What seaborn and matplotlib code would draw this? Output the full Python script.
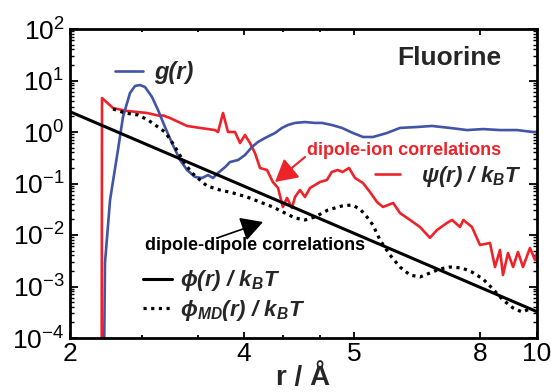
import numpy as np
import pandas as pd
import matplotlib
matplotlib.use("Agg")
import matplotlib.pyplot as plt
import seaborn as sns
from matplotlib.ticker import FixedLocator, FixedFormatter, LogLocator, NullFormatter

# ---------------- data ----------------
r_psi = [2.268, 2.272, 2.374, 2.510, 2.718, 2.863, 2.897, 2.979, 3.188, 3.357, 3.564, 3.607,
         3.679, 3.753, 3.859, 3.937, 4.008, 4.049, 4.090, 4.132, 4.191, 4.241, 4.286, 4.328,
         4.365, 4.409, 4.436, 4.481, 4.527, 4.573, 4.620, 4.667, 4.733, 4.779, 4.839, 4.884,
         4.950, 5.019, 5.171, 5.307, 5.448, 5.571, 5.788, 5.936, 6.162, 6.396, 6.638, 6.814,
         7.073, 7.208, 7.425, 7.518, 7.764, 8.0, 8.319, 8.484, 8.652, 8.753, 8.927, 9.107,
         9.283, 9.466, 9.729, 9.922, 10.0]
psi = [1e-6, 4.57, 2.92, 2.56, 2.34, 2.05, 2.10, 1.87, 1.31, 1.20, 1.09, 1.0,
       2.34, 1.0, 1.0, 0.611, 0.874, 0.611, 0.391, 0.200, 0.183, 0.107, 0.0818, 0.0350,
       0.0523, 0.0334, 0.0547, 0.0748, 0.0547, 0.0818, 0.0935, 0.107, 0.117, 0.167, 0.183, 0.167,
       0.200, 0.128, 0.102, 0.0684, 0.0437, 0.0350, 0.0418, 0.0267, 0.0196, 0.0143, 0.0088, 0.0125,
       0.0171, 0.0196, 0.0143, 0.0196, 0.0143, 0.0064, 0.0070, 0.00239, 0.00512, 0.00167, 0.00447, 0.00239,
       0.00468, 0.00239, 0.0056, 0.00327, 0.00447]

r_g = [2.284, 2.299, 2.346, 2.383, 2.421, 2.470, 2.540, 2.591, 2.643, 2.696, 2.773, 2.840,
       2.920, 3.002, 3.100, 3.188, 3.291, 3.385, 3.466, 3.535, 3.607, 3.711, 3.783, 3.907,
       4.008, 4.065, 4.115, 4.174, 4.260, 4.320, 4.373, 4.436, 4.527, 4.620, 4.686, 4.779,
       4.880, 4.990, 5.171, 5.367, 5.655, 5.936, 6.325, 6.690, 7.153, 7.621, 8.094, 8.652,
       9.247, 9.845, 10.0]
g = [1e-6, 0.00286, 0.0478, 0.146, 0.447, 1.96, 5.72, 7.82, 8.17, 7.48, 4.78, 2.67,
     1.25, 0.611, 0.286, 0.183, 0.134, 0.128, 0.146, 0.128, 0.160, 0.209, 0.261, 0.286,
     0.357, 0.511, 0.640, 0.764, 0.956, 1.20, 1.37, 1.50, 1.56, 1.50, 1.50, 1.37,
     1.20, 0.956, 0.800, 0.800, 0.956, 1.20, 1.25, 1.31, 1.20, 1.09, 1.14, 1.09,
     1.09, 1.0, 1.0]

r_phi = [2.0, 4.0, 5.0, 8.0, 10.0]
phi = [2.48, 0.0887, 0.0108, 0.000965, 0.000324]

r_md = [2.374, 2.490, 2.622, 2.729, 2.840, 2.920, 3.002, 3.075, 3.163, 3.252, 3.357, 3.452,
        3.635, 3.829, 4.024, 4.132, 4.241, 4.347, 4.436, 4.527, 4.620, 4.743, 4.880, 4.980,
        5.113, 5.248, 5.367, 5.509, 5.719, 5.936, 6.162, 6.396, 6.638, 6.891, 7.153, 7.480,
        7.764, 8.094, 8.414, 8.753, 9.107, 9.430, 9.729]
phi_md = [2.80, 2.34, 2.14, 1.71, 1.25, 1.0, 0.640, 0.409, 0.239, 0.160, 0.117, 0.0894,
          0.0748, 0.0654, 0.0547, 0.0437, 0.0350, 0.0267, 0.0214, 0.0196, 0.0224, 0.0306, 0.0366, 0.0383,
          0.0320, 0.0224, 0.0156, 0.0080, 0.00409, 0.00239, 0.00167, 0.00153, 0.00183, 0.00219, 0.00239, 0.00229,
          0.00191, 0.00140, 0.000894, 0.000547, 0.000383, 0.000320, 0.000366]

x_major = [2, 4, 5, 8, 10]
x_major_labels = ["2", "4", "5", "8", "10"]
x_minor = [8 / 3, 10 / 3, 13 / 3, 14 / 3]

# ---------------- style ----------------
sns.set_theme(style="ticks")
plt.rcParams["font.family"] = ["Liberation Sans", "DejaVu Sans"]
plt.rcParams["mathtext.fontset"] = "custom"
plt.rcParams["mathtext.rm"] = "Liberation Sans"
plt.rcParams["mathtext.it"] = "Liberation Sans:italic"
plt.rcParams["mathtext.bf"] = "Liberation Sans:bold"
plt.rcParams["mathtext.bfit"] = "Liberation Sans:italic:bold"
plt.rcParams["mathtext.sf"] = "Liberation Sans"

RED = "#EE2229"
BLUE = "#4254A6"

fig = plt.figure(figsize=(5.51, 3.92), dpi=100)
ax = fig.add_axes([70 / 551, 1 - 338 / 392, 467 / 551, 309 / 392])

sns.lineplot(x=r_psi, y=psi, ax=ax, color=RED, lw=1.9, estimator=None, sort=False)
sns.lineplot(x=r_g, y=g, ax=ax, color=BLUE, lw=1.9, estimator=None, sort=False)
sns.lineplot(x=r_phi, y=phi, ax=ax, color="black", lw=2.2, estimator=None, sort=False)
sns.lineplot(x=r_md, y=phi_md, ax=ax, color="black", lw=2.3, estimator=None, sort=False)
line_psi, line_g, line_phi, line_md = ax.lines[:4]
line_md.set_linestyle((0, (1, 1.4)))

# piecewise-logarithmic x axis as in the reference
LX = np.log(np.array([2.0, 4.0, 5.0, 8.0, 10.0]))
LF = np.array([0.0, 0.3726, 0.6081, 0.8779, 1.0])
S0 = (LF[1] - LF[0]) / (LX[1] - LX[0])
S1 = (LF[-1] - LF[-2]) / (LX[-1] - LX[-2])


def fwd(r):
    x = np.log(np.clip(np.asarray(r, dtype=float), 1e-12, None))
    y = np.interp(x, LX, LF)
    y = np.where(x < LX[0], LF[0] + (x - LX[0]) * S0, y)
    y = np.where(x > LX[-1], LF[-1] + (x - LX[-1]) * S1, y)
    return y


def inv(f):
    f = np.asarray(f, dtype=float)
    x = np.interp(f, LF, LX)
    x = np.where(f < LF[0], LX[0] + (f - LF[0]) / S0, x)
    x = np.where(f > LF[-1], LX[-1] + (f - LF[-1]) / S1, x)
    return np.exp(x)


ax.set_xscale("function", functions=(fwd, inv))
ax.set_yscale("log")
ax.set_xlim(2, 10)
ax.set_ylim(1e-4, 1e2)

ax.xaxis.set_major_locator(FixedLocator(x_major))
ax.xaxis.set_major_formatter(FixedFormatter(x_major_labels))
ax.xaxis.set_minor_locator(FixedLocator(x_minor))
ax.xaxis.set_minor_formatter(NullFormatter())
ax.yaxis.set_major_locator(LogLocator(base=10, numticks=10))
ax.yaxis.set_minor_locator(LogLocator(base=10, subs=np.arange(2, 10), numticks=20))
ax.yaxis.set_minor_formatter(NullFormatter())

for s in ax.spines.values():
    s.set_linewidth(2.0)
    s.set_color("black")
ax.tick_params(which="both", direction="in", top=True, right=True, colors="black")
ax.tick_params(axis="x", which="major", length=4, width=1.3, labelsize=19, pad=3)
ax.tick_params(axis="x", which="minor", length=2.5, width=1.3)
ax.tick_params(axis="y", which="major", length=6, width=1.3, labelsize=19, pad=4)
ax.tick_params(axis="y", which="minor", length=3, width=1.0)

ax.set_xlabel("r / Å", fontsize=20, fontweight="bold", labelpad=-1)

# texts
ax.text(0.700, 0.8835, "Fluorine", transform=ax.transAxes, fontsize=19,
        fontweight="bold", ha="left", va="baseline")
ax.text(0.5075, 0.5922, "dipole-ion correlations", transform=ax.transAxes, fontsize=13,
        fontweight="bold", color=RED, ha="left", va="baseline")
ax.text(0.1606, 0.2848, "dipole-dipole correlations", transform=ax.transAxes, fontsize=13,
        fontweight="bold", color="black", ha="left", va="baseline")

ax.annotate("", xy=(0.439, 0.5049), xytext=(0.5032, 0.5858), xycoords="axes fraction",
            arrowprops=dict(arrowstyle="-|>,head_length=0.9,head_width=0.5", color=RED,
                            lw=1.5, mutation_scale=15, shrinkA=0, shrinkB=0))
ax.annotate("", xy=(0.4133, 0.3754), xytext=(0.3148, 0.3236), xycoords="axes fraction",
            arrowprops=dict(arrowstyle="-|>,head_length=0.9,head_width=0.5", color="black",
                            lw=1.2, mutation_scale=15, shrinkA=0, shrinkB=0))

fam = ["Liberation Sans", "DejaVu Sans"]
prop_g = dict(family=fam, weight="bold", style="italic", size=17)
prop = dict(family=fam, weight="bold", style="italic", size=16)
leg1 = ax.legend(handles=[line_g], labels=["g(r)"], loc="center left",
                 bbox_to_anchor=(0.0964, 0.8586), frameon=False, borderpad=0,
                 borderaxespad=0, handlelength=1.2, handletextpad=0.45, prop=prop_g)
ax.add_artist(leg1)
leg2 = ax.legend(handles=[line_psi], labels=[r"ψ(r) / k$_{\mathbfit{B}}$T"], loc="center left",
                 bbox_to_anchor=(0.653, 0.524), frameon=False, borderpad=0,
                 borderaxespad=0, handlelength=1.12, handletextpad=0.95, prop=prop)
ax.add_artist(leg2)
leg3 = ax.legend(handles=[line_phi, line_md],
                 labels=[r"ϕ(r) / k$_{\mathbfit{B}}$T", r"ϕ$_{\mathbfit{MD}}$(r) / k$_{\mathbfit{B}}$T"],
                 loc="center left", bbox_to_anchor=(0.156, 0.1375), frameon=False, borderpad=0,
                 borderaxespad=0, handlelength=1.3, handletextpad=0.38, labelspacing=0.2,
                 prop=prop)

fig.savefig("out.png", dpi=100)
